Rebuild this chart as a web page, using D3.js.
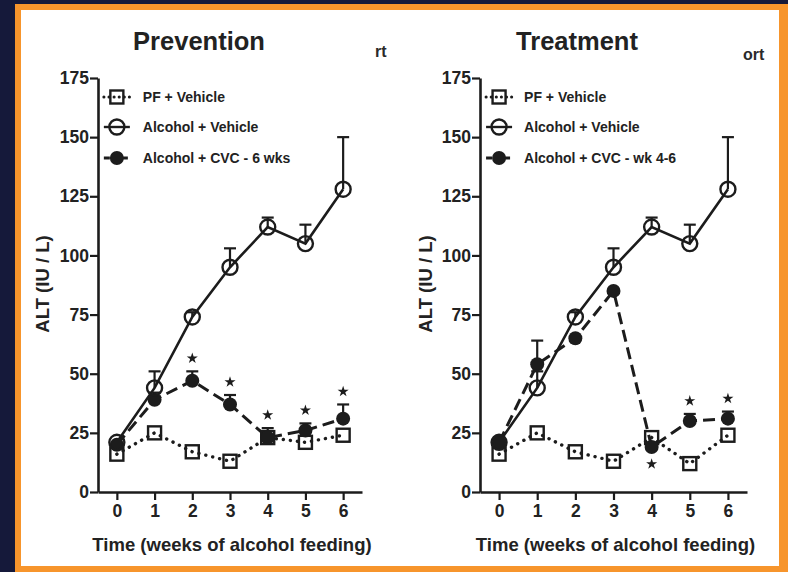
<!DOCTYPE html>
<html><head><meta charset="utf-8">
<script src="https://cdn.jsdelivr.net/npm/d3@7"></script>
<style>
html,body{margin:0;padding:0;background:#15193a;}
svg{display:block;font-family:"Liberation Sans",Arial,sans-serif;}
</style></head>
<body><svg id="c" width="788" height="572"></svg>
<script>
// ---------- data ----------
const weeks = [0, 1, 2, 3, 4, 5, 6];
const yTicks = [0, 25, 50, 75, 100, 125, 150, 175];
const panelTitles = ["Prevention", "Treatment"];
const legendPrev = ["PF + Vehicle", "Alcohol + Vehicle", "Alcohol + CVC - 6 wks"];
const legendTreat = ["PF + Vehicle", "Alcohol + Vehicle", "Alcohol + CVC - wk 4-6"];

const alcVehicle     = [21, 44, 74, 95, 112, 105, 128];
const alcVehicleTop  = [22, 51, 76, 103, 116, 113, 150];

const pfVehiclePrev  = [16, 25, 17, 13, 23, 21, 24];
const cvcPrev        = [20, 39, 47, 37, 23, 26, 31];
const cvcPrevTop     = [21, 42, 51, 41, 27, 29, 37];
const starsPrevAbove = [2, 3, 4, 5, 6];
const starsPrevBelow = [];

const pfVehicleTreat = [16, 25, 17, 13, 23, 12, 24];
const cvcTreat       = [21, 54, 65, 85, 19, 30, 31];
const cvcTreatTop    = [21, 64, 66, 86, 21, 33, 34];
const starsTreatAbove = [5, 6];
const starsTreatBelow = [4];

// ---------- frame ----------
const svg = d3.select("#c");
svg.append("rect").attr("x",0).attr("y",0).attr("width",788).attr("height",572).attr("fill","#15193a");
svg.append("rect").attr("x",15).attr("y",4).attr("width",773).attr("height",568).attr("fill","#f7952c");
svg.append("rect").attr("x",21).attr("y",10).attr("width",758).attr("height",556).attr("fill","#ffffff");

const ink = "#1c1c1c";

function panel(cfg) {
  const g = svg.append("g");
  const x = d3.scaleLinear().domain([-0.5, 6.5]).range([cfg.x0, cfg.x1]);
  const y = d3.scaleLinear().domain([0, 175]).range([492, 78]);

  g.append("text").attr("x", cfg.titleX).attr("y", 50).attr("text-anchor","middle")
    .attr("font-size", 25.5).attr("font-weight","bold").attr("fill","#222").text(cfg.title);

  // axes
  const ya = g.append("g").attr("transform", `translate(${cfg.x0},0)`)
    .call(d3.axisLeft(y).tickValues(yTicks).tickSize(8).tickSizeOuter(0).tickPadding(1));
  const xa = g.append("g").attr("transform", `translate(0,492)`)
    .call(d3.axisBottom(x).tickValues(weeks).tickSize(8).tickSizeOuter(0).tickPadding(3).tickFormat(d3.format("d")));
  [ya, xa].forEach(a => {
    a.select(".domain").attr("stroke", ink).attr("stroke-width", 2.6);
    a.selectAll(".tick line").attr("stroke", ink).attr("stroke-width", 2.2);
    a.selectAll(".tick text").attr("fill", "#222").attr("font-size", 17.5)
      .attr("font-weight","bold").attr("font-family","Liberation Sans, Arial, sans-serif");
  });
  xa.selectAll(".tick text").attr("dy", "0.8em");

  g.append("text").attr("transform", `translate(${cfg.yLabelX},284) rotate(-90)`)
    .attr("text-anchor","middle").attr("font-size",18.5).attr("font-weight","bold")
    .attr("fill","#222").text("ALT (IU / L)");
  g.append("text").attr("x", (cfg.x0 + cfg.x1) / 2 + 2).attr("y", 551).attr("text-anchor","middle")
    .attr("font-size",18.5).attr("font-weight","bold").attr("fill","#222")
    .text("Time (weeks of alcohol feeding)");

  const line = d3.line().x((d,i) => x(weeks[i])).y(d => y(d));

  // lines
  g.append("path").attr("d", line(cfg.pf)).attr("fill","none").attr("stroke",ink)
    .attr("stroke-width",3.4).attr("stroke-dasharray","0.1 7").attr("stroke-linecap","round");
  g.append("path").attr("d", line(alcVehicle)).attr("fill","none").attr("stroke",ink)
    .attr("stroke-width",2.6);
  g.append("path").attr("d", line(cfg.cvc)).attr("fill","none").attr("stroke",ink)
    .attr("stroke-width",3).attr("stroke-dasharray","12 6");

  // error bars
  function errBars(vals, tops) {
    const eg = g.append("g");
    vals.forEach((v, i) => {
      if (tops[i] - v < 1.2) return;
      eg.append("line").attr("x1", x(weeks[i])).attr("x2", x(weeks[i]))
        .attr("y1", y(v)).attr("y2", y(tops[i])).attr("stroke", ink).attr("stroke-width", 2.2);
      eg.append("line").attr("x1", x(weeks[i]) - 6).attr("x2", x(weeks[i]) + 6)
        .attr("y1", y(tops[i])).attr("y2", y(tops[i])).attr("stroke", ink).attr("stroke-width", 2.2);
    });
  }
  errBars(alcVehicle, alcVehicleTop);
  errBars(cfg.cvc, cfg.cvcTop);

  // markers
  g.selectAll(".pf").data(cfg.pf).join("rect")
    .attr("x",(d,i)=>x(weeks[i])-6.5).attr("y",d=>y(d)-6.5).attr("width",13).attr("height",13)
    .attr("fill","none").attr("stroke",ink).attr("stroke-width",2.4);
  g.selectAll(".cvc").data(cfg.cvc).join("circle")
    .attr("cx",(d,i)=>x(weeks[i])).attr("cy",d=>y(d)).attr("r",7).attr("fill",ink);
  g.selectAll(".alc").data(alcVehicle).join("circle")
    .attr("cx",(d,i)=>x(weeks[i])).attr("cy",d=>y(d)).attr("r",7.5)
    .attr("fill","none").attr("stroke",ink).attr("stroke-width",2.4);

  // significance stars
  const star = d3.symbol().type(d3.symbolStar).size(38);
  cfg.starsAbove.forEach(w => {
    g.append("path").attr("d", star()).attr("fill", ink)
      .attr("transform", `translate(${x(w)},${y(cfg.cvcTop[w]) - 13})`);
  });
  cfg.starsBelow.forEach(w => {
    g.append("path").attr("d", star()).attr("fill", ink)
      .attr("transform", `translate(${x(w)},${y(cfg.cvc[w]) + 17})`);
  });

  // legend
  const lg = g.append("g");
  const rows = [97, 127, 158];
  const mx = x(0);
  const styles = [
    {dash:"0.1 5", w:3, cap:"round"}, {dash:null, w:2.4}, {dash:"6 3", w:3}
  ];
  cfg.legend.forEach((lab, k) => {
    const ry = rows[k];
    const l = lg.append("line").attr("x1", mx - 13).attr("x2", mx + 13).attr("y1", ry).attr("y2", ry)
      .attr("stroke", ink).attr("stroke-width", styles[k].w);
    if (styles[k].dash) l.attr("stroke-dasharray", styles[k].dash);
    if (styles[k].cap) l.attr("stroke-linecap", styles[k].cap);
    if (k === 0) lg.append("rect").attr("x", mx-6.5).attr("y", ry-6.5).attr("width",13).attr("height",13)
      .attr("fill","none").attr("stroke",ink).attr("stroke-width",2.4);
    if (k === 1) lg.append("circle").attr("cx", mx).attr("cy", ry).attr("r",7.5)
      .attr("fill","none").attr("stroke",ink).attr("stroke-width",2.4);
    if (k === 2) lg.append("circle").attr("cx", mx).attr("cy", ry).attr("r",7).attr("fill",ink);
    lg.append("text").attr("x", mx + cfg.legendGap).attr("y", ry + 5).attr("font-size", 14)
      .attr("font-weight","bold").attr("fill","#222").text(lab);
  });
}

panel({x0:98, x1:362, title:panelTitles[0], titleX:199, yLabelX:49, pf:pfVehiclePrev, cvc:cvcPrev,
  cvcTop:cvcPrevTop, starsAbove:starsPrevAbove, starsBelow:starsPrevBelow, legend:legendPrev, legendGap:26});
panel({x0:480, x1:747, title:panelTitles[1], titleX:577, yLabelX:432, pf:pfVehicleTreat, cvc:cvcTreat,
  cvcTop:cvcTreatTop, starsAbove:starsTreatAbove, starsBelow:starsTreatBelow, legend:legendTreat, legendGap:25});

// clipped remnants of a hidden heading
svg.append("text").attr("x",375).attr("y",57).attr("font-size",16).attr("font-weight","bold")
  .attr("fill","#2a2a2a").text("rt");
svg.append("text").attr("x",743).attr("y",60).attr("font-size",16).attr("font-weight","bold")
  .attr("fill","#2a2a2a").text("ort");
</script></body></html>
